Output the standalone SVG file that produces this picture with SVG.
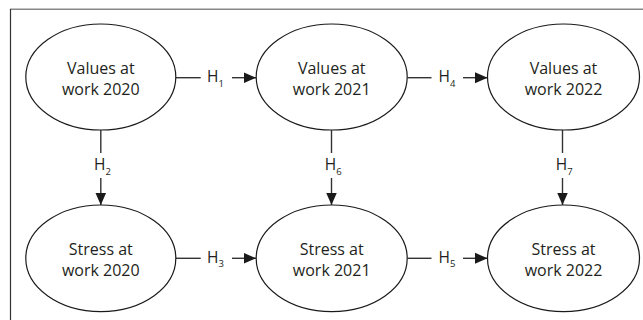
<svg xmlns="http://www.w3.org/2000/svg" width="643" height="320" viewBox="0 0 643 320">
<style>
.node{fill:#fff;stroke:#1a1a1a;stroke-width:1.2}
.nt{font-family:"Open Sans",sans-serif;font-size:16px;fill:#231f20;text-anchor:middle}
.lb{font-family:"Open Sans",sans-serif;font-size:15.5px;fill:#231f20}
.sub{font-size:9.5px}
.c{stroke:#333;stroke-width:1.4;fill:none}
</style>
<defs>
<marker id="ah" markerUnits="userSpaceOnUse" markerWidth="13" markerHeight="12" viewBox="0 0 13 12" refX="12.5" refY="6" orient="auto">
<path d="M0,0.5 L12.5,6 L0,11.5 Z" fill="#1a1a1a"/>
</marker>
</defs>
<rect width="643" height="320" fill="#fff"/>
<g id="frame">
<line x1="10" y1="9.3" x2="643" y2="9.3" stroke="#888" stroke-width="1.5"/>
<line x1="10.5" y1="9" x2="10.5" y2="320" stroke="#333" stroke-width="1.2"/>
</g>
<g id="connectors">
<line class="c" x1="176" y1="77.7" x2="200.7" y2="77.7"/>
<line class="c" x1="232" y1="77.7" x2="256" y2="77.7" marker-end="url(#ah)"/>
<text class="lb" x="207" y="82">H<tspan class="sub" dy="4.5">1</tspan></text>
<line class="c" x1="407.5" y1="77.7" x2="431.5" y2="77.7"/>
<line class="c" x1="463" y1="77.7" x2="487.5" y2="77.7" marker-end="url(#ah)"/>
<text class="lb" x="438.5" y="82">H<tspan class="sub" dy="4.5">4</tspan></text>
<line class="c" x1="176" y1="258.3" x2="200.7" y2="258.3"/>
<line class="c" x1="232" y1="258.3" x2="256" y2="258.3" marker-end="url(#ah)"/>
<text class="lb" x="207" y="262.6">H<tspan class="sub" dy="4.5">3</tspan></text>
<line class="c" x1="407.5" y1="258.3" x2="431.5" y2="258.3"/>
<line class="c" x1="463" y1="258.3" x2="487.5" y2="258.3" marker-end="url(#ah)"/>
<text class="lb" x="438.5" y="262.6">H<tspan class="sub" dy="4.5">5</tspan></text>
<line class="c" x1="100.8" y1="130" x2="100.8" y2="153"/>
<line class="c" x1="100.8" y1="178" x2="100.8" y2="205" marker-end="url(#ah)"/>
<text class="lb" x="94" y="170">H<tspan class="sub" dy="5">2</tspan></text>
<line class="c" x1="331.5" y1="130" x2="331.5" y2="153"/>
<line class="c" x1="331.5" y1="178" x2="331.5" y2="205" marker-end="url(#ah)"/>
<text class="lb" x="324.7" y="170">H<tspan class="sub" dy="5">6</tspan></text>
<line class="c" x1="562.5" y1="130" x2="562.5" y2="153"/>
<line class="c" x1="562.5" y1="178" x2="562.5" y2="205" marker-end="url(#ah)"/>
<text class="lb" x="555.7" y="170">H<tspan class="sub" dy="5">7</tspan></text>
</g>
<g id="v2020">
<ellipse class="node" cx="100.8" cy="77" rx="75" ry="53"/>
<text class="nt" x="100.8" y="74">Values at</text>
<text class="nt" x="100.8" y="95">work 2020</text>
</g>
<g id="v2021">
<ellipse class="node" cx="331.7" cy="77" rx="75.5" ry="53"/>
<text class="nt" x="331.7" y="74">Values at</text>
<text class="nt" x="331.7" y="95">work 2021</text>
</g>
<g id="v2022">
<ellipse class="node" cx="563.5" cy="77" rx="76" ry="53"/>
<text class="nt" x="563.5" y="74">Values at</text>
<text class="nt" x="563.5" y="95">work 2022</text>
</g>
<g id="s2020">
<ellipse class="node" cx="100.8" cy="258.3" rx="75" ry="53.3"/>
<text class="nt" x="100.8" y="254.5">Stress at</text>
<text class="nt" x="100.8" y="275.5">work 2020</text>
</g>
<g id="s2021">
<ellipse class="node" cx="331.7" cy="258.3" rx="75.5" ry="53.3"/>
<text class="nt" x="331.7" y="254.5">Stress at</text>
<text class="nt" x="331.7" y="275.5">work 2021</text>
</g>
<g id="s2022">
<ellipse class="node" cx="563.5" cy="258.3" rx="76" ry="53.3"/>
<text class="nt" x="563.5" y="254.5">Stress at</text>
<text class="nt" x="563.5" y="275.5">work 2022</text>
</g>
</svg>
